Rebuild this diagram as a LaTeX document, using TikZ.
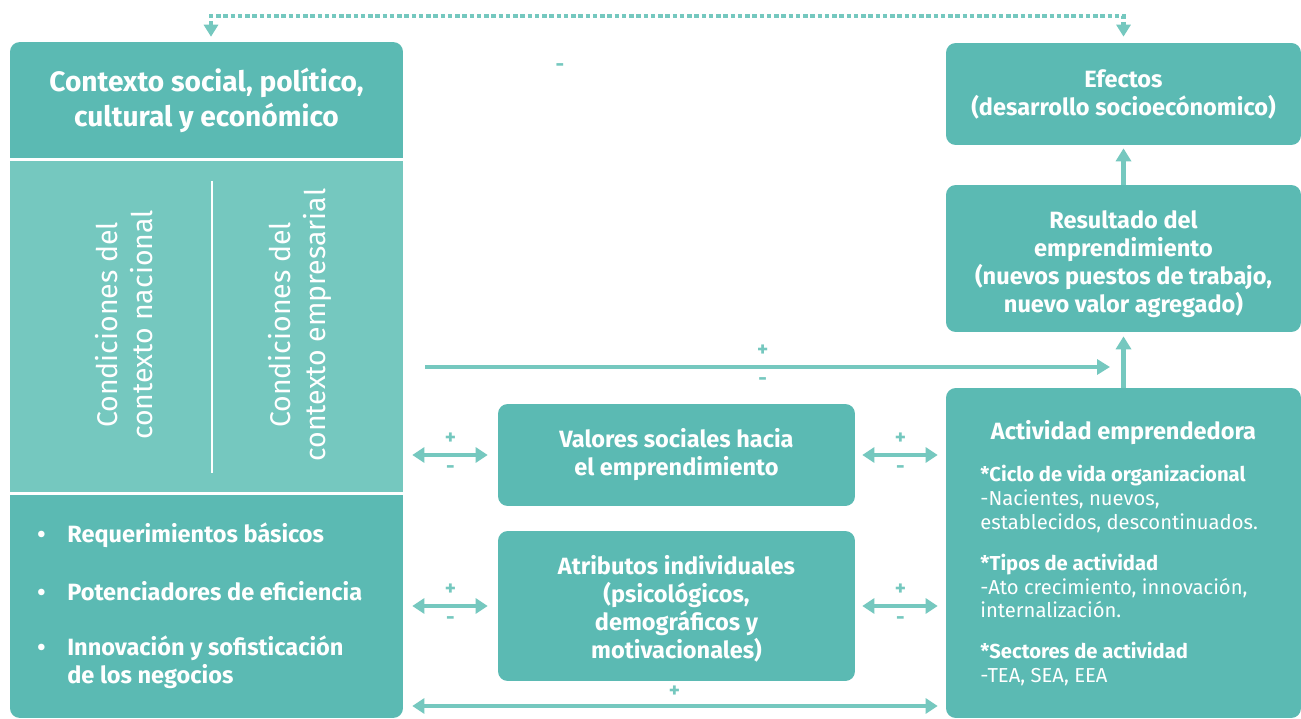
\documentclass[tikz,border=0pt]{standalone}
\usepackage{fontspec}
\setmainfont{Fira Sans}
\usetikzlibrary{arrows.meta}
\definecolor{tealdark}{HTML}{5BBAB3}
\definecolor{teallight}{HTML}{75C8BF}

\begin{document}
\begin{tikzpicture}[x=0.02cm, y=-0.02cm,
    box/.style={fill=tealdark, text=white, rounded corners=5.5pt, align=center, inner sep=0pt},
    bigfont/.style={font=\bfseries\fontsize{16}{19.8}\selectfont},
    boxfont/.style={font=\bfseries\fontsize{13.4}{15.9}\selectfont},
    rot/.style={text=white, rotate=90, align=center, font=\fontsize{16.2}{19.8}\selectfont},
    item/.style={text=white, anchor=west, align=left, inner sep=0pt, font=\bfseries\fontsize{13.4}{15.9}\selectfont},
    arr/.style={teallight, line width=0.1cm, -{Triangle[length=0.26cm, width=0.3cm]}},
    dbl/.style={teallight, line width=0.09cm, {Triangle[length=0.24cm, width=0.3cm]}-{Triangle[length=0.24cm, width=0.3cm]}},
    sign/.style={text=teallight, inner sep=0pt, font=\bfseries\fontsize{12}{12}\selectfont},
  ]

  \useasboundingbox[fill=white] (0,0) rectangle (1301,719);

  % left panel
  \node[box, minimum width=7.86cm, minimum height=13.52cm] (ctx) at (206.5,380) {};
  \fill[teallight] (10,158) rectangle (403,495);
  \draw[white, line width=0.06cm] (10,159.5) -- (403,159.5);
  \draw[white, line width=0.06cm] (10,493.5) -- (403,493.5);
  \draw[white, line width=0.04cm] (212,181) -- (212,473);

  \node[bigfont, text=white, align=center] (ctxtitle) at (206.5,100) {Contexto social, político,\\cultural y económico};
  \node[rot] (nac) at (124,325) {Condiciones del\\contexto nacional};
  \node[rot] (emp) at (300,325) {Condiciones del\\contexto empresarial};

  \node[item] (req) at (37,535) {\makebox[0.6cm][l]{\textbullet}Requerimientos básicos};
  \node[item] (pot) at (37,591) {\makebox[0.6cm][l]{\textbullet}Potenciadores de eficiencia};
  \node[item] (inn) at (37,662) {\makebox[0.6cm][l]{\textbullet}Innovación y sofisticación\\\hspace*{0.6cm}de los negocios};

  % middle boxes
  \node[box, boxfont, minimum width=7.14cm, minimum height=2.04cm] (val) at (676.5,455) {Valores sociales hacia\\el emprendimiento};
  \node[box, minimum width=7.14cm, minimum height=3cm] (att) at (676.5,606) {};
  \node[boxfont, text=white, align=center] (atttext) at (676.5,609) {Atributos individuales\\(psicológicos,\\demográficos y\\motivacionales)};

  % right boxes
  \node[box, boxfont, minimum width=7.1cm, minimum height=2.04cm] (efe) at (1123.5,94) {Efectos\\(desarrollo socioecónomico)};
  \node[box, minimum width=7.1cm, minimum height=2.94cm] (res) at (1123.5,258.5) {};
  \node[boxfont, text=white, align=center] (restext) at (1123.5,264) {Resultado del\\emprendimiento\\(nuevos puestos de trabajo,\\nuevo valor agregado)};
  \node[box, minimum width=7.1cm, minimum height=6.6cm] (act) at (1123.5,553) {};
  \node[boxfont, text=white] (acttitle) at (1123.5,433) {Actividad emprendedora};
  \node[text=white, anchor=north west, align=left, inner sep=0pt, font=\fontsize{11.5}{13.6}\selectfont] (actbody) at (980,465)
    {\textbf{*Ciclo de vida organizacional}\\-Nacientes, nuevos,\\establecidos, descontinuados.\\[9.5pt]
     \textbf{*Tipos de actividad}\\-Ato crecimiento, innovación,\\internalización.\\[9.5pt]
     \textbf{*Sectores de actividad}\\-TEA, SEA, EEA};

  \node[sign] (stray) at (560,68) {-};

  % connectors
  \coordinate (top) at (660,16);
  \coordinate (join) at (1122,367);
  \coordinate (low) at (674,706);

  \draw[teallight, line width=0.09cm, dash pattern=on 0.09cm off 0.055cm,
    {Triangle[length=0.24cm, width=0.28cm]}-{Triangle[length=0.24cm, width=0.28cm]},
    shorten <=0.1cm, shorten >=0.12cm]
    ([xshift=0.09cm]ctx.north) -- ([xshift=0.09cm]ctx.north |- top) -- (efe.north |- top) -- (efe.north);

  \draw[arr, shorten >=0.06cm] (res.north) -- (efe.south);
  \draw[arr, shorten >=0.08cm] (act.north) -- (res.south);
  \draw[arr, shorten <=0.44cm, shorten >=0.24cm] (ctx.east |- join) -- node[sign, above=0.17cm]{+} node[sign, below=0.16cm]{-} (join);

  \draw[dbl, shorten <=0.18cm, shorten >=0.2cm] (ctx.east |- val) -- node[sign, above=0.17cm]{+} node[sign, below=0.16cm]{-} (val.west);
  \draw[dbl, shorten <=0.14cm, shorten >=0.16cm] (val.east) -- node[sign, above=0.17cm]{+} node[sign, below=0.16cm]{-} (act.west |- val);
  \draw[dbl, shorten <=0.18cm, shorten >=0.2cm] (ctx.east |- att) -- node[sign, above=0.17cm]{+} node[sign, below=0.16cm]{-} (att.west);
  \draw[dbl, shorten <=0.14cm, shorten >=0.16cm] (att.east) -- node[sign, above=0.17cm]{+} node[sign, below=0.16cm]{-} (act.west |- att);
  \draw[dbl, shorten <=0.18cm, shorten >=0.16cm] (ctx.east |- low) -- node[sign, above=0.13cm]{+} (act.west |- low);
\end{tikzpicture}
\end{document}
